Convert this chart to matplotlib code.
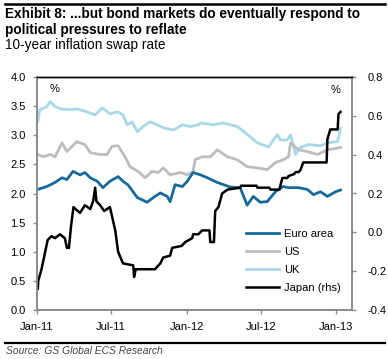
import matplotlib
matplotlib.use("Agg")
import matplotlib.pyplot as plt
import matplotlib.dates as mdates
import pandas as pd

plt.rcParams['font.family'] = ['Liberation Sans', 'DejaVu Sans']

# values (left axis %, Japan on right axis %)
euro_dates = ['2011-01-03', '2011-01-25', '2011-02-14', '2011-03-03', '2011-03-15', '2011-03-30',
              '2011-04-16', '2011-04-28', '2011-05-11', '2011-05-28', '2011-06-11', '2011-06-28',
              '2011-07-18', '2011-07-30', '2011-08-11', '2011-09-03', '2011-09-27', '2011-10-12',
              '2011-10-29', '2011-11-15', '2011-11-22', '2011-12-04', '2011-12-22', '2012-01-03',
              '2012-01-17', '2012-02-04', '2012-02-21', '2012-03-16', '2012-04-17', '2012-05-11',
              '2012-05-28', '2012-06-12', '2012-06-29', '2012-07-16', '2012-08-05', '2012-08-24',
              '2012-09-06', '2012-09-30', '2012-10-22', '2012-11-06', '2012-11-23', '2012-12-10',
              '2012-12-30', '2013-01-11']
euro = [2.07, 2.12, 2.19, 2.27, 2.24, 2.38, 2.32, 2.36, 2.27, 2.21, 2.10, 2.21,
        2.29, 2.21, 2.15, 1.93, 1.85, 1.93, 2.01, 1.95, 1.86, 2.15, 2.12, 2.21,
        2.36, 2.32, 2.27, 2.19, 2.11, 2.10, 1.80, 1.95, 1.85, 1.86, 2.03, 2.12,
        2.10, 2.10, 2.07, 1.98, 2.03, 1.95, 2.03, 2.06]

us_dates = ['2011-01-03', '2011-01-16', '2011-02-02', '2011-02-14', '2011-03-03', '2011-03-15',
            '2011-04-08', '2011-04-28', '2011-05-11', '2011-06-04', '2011-06-21', '2011-07-03',
            '2011-07-18', '2011-08-04', '2011-08-16', '2011-09-05', '2011-09-22', '2011-10-09',
            '2011-10-24', '2011-11-05', '2011-11-22', '2011-12-17', '2012-01-03', '2012-01-17',
            '2012-01-22', '2012-02-08', '2012-02-28', '2012-03-16', '2012-04-10', '2012-05-04',
            '2012-05-28', '2012-06-22', '2012-07-16', '2012-08-05', '2012-08-24', '2012-09-06',
            '2012-09-11', '2012-09-30', '2012-10-22', '2012-11-16', '2012-12-10', '2013-01-11']
us = [2.67, 2.63, 2.67, 2.63, 2.87, 2.72, 2.89, 2.84, 2.70, 2.67, 2.67, 2.81,
      2.82, 2.63, 2.46, 2.38, 2.27, 2.38, 2.36, 2.44, 2.32, 2.36, 2.32, 2.38,
      2.58, 2.63, 2.63, 2.75, 2.63, 2.58, 2.46, 2.44, 2.41, 2.53, 2.58, 2.63,
      2.87, 2.75, 2.72, 2.67, 2.75, 2.79]

uk_dates = ['2011-01-03', '2011-01-08', '2011-01-25', '2011-02-02', '2011-02-14', '2011-03-03',
            '2011-03-23', '2011-04-11', '2011-05-03', '2011-05-23', '2011-06-09', '2011-06-28',
            '2011-07-18', '2011-07-30', '2011-08-09', '2011-08-21', '2011-09-03', '2011-09-17',
            '2011-10-04', '2011-10-21', '2011-11-05', '2011-11-30', '2011-12-22', '2012-01-10',
            '2012-01-30', '2012-02-04', '2012-03-06', '2012-03-31', '2012-05-04', '2012-05-24',
            '2012-06-22', '2012-07-19', '2012-08-10', '2012-08-17', '2012-09-03', '2012-09-11',
            '2012-09-23', '2012-10-05', '2012-10-25', '2012-11-23', '2012-12-10', '2013-01-04',
            '2013-01-11']
uk = [3.24, 3.44, 3.49, 3.58, 3.49, 3.45, 3.44, 3.45, 3.40, 3.35, 3.47, 3.37,
      3.40, 3.35, 3.18, 3.23, 3.06, 3.15, 3.23, 3.18, 3.13, 3.09, 3.18, 3.15,
      3.18, 3.21, 3.18, 3.21, 3.15, 3.04, 2.87, 2.80, 3.01, 2.92, 2.92, 3.01,
      2.67, 2.79, 2.84, 2.82, 2.87, 2.89, 3.12]

japan_dates = ['2011-01-03', '2011-01-04', '2011-01-12', '2011-01-18', '2011-01-27', '2011-02-05',
               '2011-02-14', '2011-02-26', '2011-03-10', '2011-03-15', '2011-03-20', '2011-03-25',
               '2011-03-31', '2011-04-05', '2011-04-16', '2011-04-28', '2011-05-11', '2011-05-18',
               '2011-05-23', '2011-05-26', '2011-06-04', '2011-06-14', '2011-06-28', '2011-07-11',
               '2011-07-18', '2011-07-30', '2011-08-24', '2011-08-26', '2011-08-30', '2011-10-16',
               '2011-10-29', '2011-11-05', '2011-11-22', '2011-11-27', '2011-12-20', '2011-12-29',
               '2012-01-15', '2012-01-17', '2012-01-30', '2012-02-08', '2012-02-26', '2012-02-28',
               '2012-03-08', '2012-03-11', '2012-03-19', '2012-03-28', '2012-04-10', '2012-05-11',
               '2012-05-13', '2012-06-20', '2012-06-22', '2012-07-21', '2012-07-24', '2012-08-15',
               '2012-08-17', '2012-08-22', '2012-09-03', '2012-09-06', '2012-09-20', '2012-09-23',
               '2012-09-30', '2012-10-05', '2012-10-12', '2012-12-08', '2012-12-10', '2012-12-17',
               '2013-01-04', '2013-01-06', '2013-01-11']
japan = [-0.29, -0.25, -0.19, -0.13, -0.04, -0.02, -0.03, -0.01, -0.03, -0.08, -0.08, 0.03,
         0.13, 0.12, 0.10, 0.14, 0.12, 0.16, 0.23, 0.16, 0.14, 0.11, 0.13, 0.01,
         -0.10, -0.16, -0.17, -0.23, -0.19, -0.19, -0.16, -0.13, -0.12, -0.08, -0.07, -0.05,
         -0.03, -0.01, -0.01, 0.01, 0.01, -0.05, -0.05, 0.11, 0.13, 0.20, 0.22, 0.23,
         0.24, 0.24, 0.23, 0.23, 0.22, 0.22, 0.24, 0.28, 0.28, 0.29, 0.30, 0.31,
         0.31, 0.32, 0.36, 0.36, 0.48, 0.53, 0.53, 0.61, 0.62]

xtick_dates = ['2011-01-01', '2011-07-01', '2012-01-01', '2012-07-01', '2013-01-01']
left_ticks = [0.0, 0.5, 1.0, 1.5, 2.0, 2.5, 3.0, 3.5, 4.0]
right_ticks = [-0.4, -0.2, 0.0, 0.2, 0.4, 0.6, 0.8]

c_euro = '#17699b'
c_us = '#bdbdbd'
c_uk = '#a9d9e7'
gray = '#8c8c8c'

fig = plt.figure(figsize=(3.88, 3.59), dpi=100)
W, H = 388.0, 359.0
ax = fig.add_axes([37 / W, 1 - 310 / H, 315 / W, 233 / H])
ax2 = ax.twinx()

l_uk, = ax.plot(pd.to_datetime(uk_dates), uk, color=c_uk, lw=2.0, label='UK', zorder=2)
l_us, = ax.plot(pd.to_datetime(us_dates), us, color=c_us, lw=2.0, label='US', zorder=3)
l_eu, = ax.plot(pd.to_datetime(euro_dates), euro, color=c_euro, lw=2.0, label='Euro area', zorder=4)
l_jp, = ax2.plot(pd.to_datetime(japan_dates), japan, color='black', lw=1.8, label='Japan (rhs)')

ax.set_ylim(0, 4)
ax.set_yticks(left_ticks)
ax.set_yticklabels(['%.1f' % v for v in left_ticks])
ax2.set_ylim(-0.4, 0.8)
ax2.set_yticks(right_ticks)
ax2.set_yticklabels(['%.1f' % v for v in right_ticks])

ax.set_xlim(pd.Timestamp('2011-01-01'), pd.Timestamp('2013-02-08'))
ax.set_xticks(pd.to_datetime(xtick_dates))
ax.xaxis.set_major_formatter(mdates.DateFormatter('%b-%y'))

for a in (ax, ax2):
    for s in ('left', 'right', 'bottom'):
        a.spines[s].set_color(gray)
        a.spines[s].set_linewidth(1.3)
    a.spines['top'].set_color('black')
    a.spines['top'].set_linewidth(1.0)
    a.tick_params(colors=gray, labelcolor='black', labelsize=8, length=3, width=1, direction='out')
ax.tick_params(axis='y', pad=5)
ax2.tick_params(axis='y', pad=8)
ax.tick_params(axis='x', pad=6)

ax.text(0.04, 0.95, '%', transform=ax.transAxes, fontsize=8, va='center', ha='left')
ax2.text(0.965, 0.945, '%', transform=ax.transAxes, fontsize=8, va='center', ha='right')

ax.legend([l_eu, l_us, l_uk, l_jp], ['Euro area', 'US', 'UK', 'Japan (rhs)'],
          loc='upper left', bbox_to_anchor=(246 / W, 1 - 229 / H), bbox_transform=fig.transFigure,
          frameon=False, fontsize=8, handlelength=3.0, handletextpad=0.4,
          labelspacing=0.72, borderpad=0, borderaxespad=0)

fig.text(5 / W, 1 - 14 / H, 'Exhibit 8: ...but bond markets do eventually respond to',
         fontsize=9.8, fontweight='bold', va='center', ha='left')
fig.text(5 / W, 1 - 30 / H, 'political pressures to reflate',
         fontsize=9.8, fontweight='bold', va='center', ha='left')
fig.text(5 / W, 1 - 44.5 / H, '10-year inflation swap rate',
         fontsize=9.8, va='center', ha='left')
fig.text(6 / W, 1 - 351 / H, 'Source: GS Global ECS Research',
         fontsize=7.4, style='italic', color='#444444', va='center', ha='left')

fig.add_artist(plt.Line2D([5 / W, 385 / W], [1 - 4 / H, 1 - 4 / H], color='black', lw=1.8))
fig.add_artist(plt.Line2D([5 / W, 385 / W], [1 - 343 / H, 1 - 343 / H], color='black', lw=1.6))

fig.savefig('out.png', dpi=100)
